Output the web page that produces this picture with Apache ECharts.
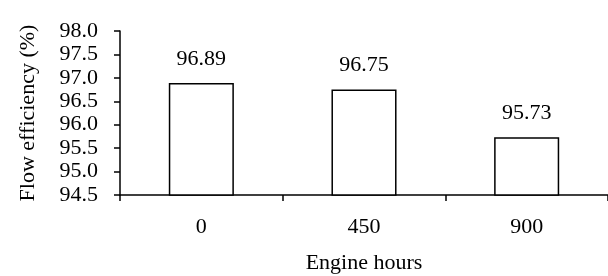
<!DOCTYPE html>
<html lang="en">
<head>
    <meta charset="UTF-8">
    <title>Flow efficiency</title>
    <style>
        html, body { margin: 0; padding: 0; background: #fff; }
        #container { width: 608px; height: 276px; }
    </style>
    <script src="https://cdn.jsdelivr.net/npm/echarts@6/dist/echarts.min.js"></script>
</head>
<body>
<div id="container"></div>
<script type="text/javascript">
    // data
    var engineHours = ['0', '450', '900'];
    var efficiency = [96.89, 96.75, 95.73];

    var yMin = 94.5, yMax = 98.0, yStep = 0.5;

    var font = '"Liberation Serif", "Times New Roman", serif';
    var ink = '#000';
    var size = 22;

    var myChart = echarts.init(document.getElementById('container'));

    var option = {
        backgroundColor: '#fff',
        animation: false,
        textStyle: { fontFamily: font, color: ink },
        grid: { left: 120, right: 0, top: 31, bottom: 81, containLabel: false, outerBoundsMode: 'none' },
        xAxis: {
            type: 'category',
            data: engineHours,
            name: 'Engine hours',
            nameLocation: 'middle',
            nameGap: 57,
            nameTextStyle: { fontFamily: font, fontSize: size, color: ink },
            axisLine: { lineStyle: { color: ink, width: 1.5 } },
            axisTick: { show: true, length: 6, lineStyle: { color: ink, width: 1.5 } },
            axisLabel: { fontFamily: font, fontSize: size, color: ink, margin: 21 }
        },
        yAxis: {
            type: 'value',
            min: yMin,
            max: yMax,
            interval: yStep,
            name: 'Flow efficiency (%)',
            nameLocation: 'middle',
            nameGap: 81,
            nameTextStyle: { fontFamily: font, fontSize: size, color: ink },
            axisLine: { show: true, lineStyle: { color: ink, width: 1.5 } },
            axisTick: { show: true, length: 6, lineStyle: { color: ink, width: 1.5 } },
            splitLine: { show: false },
            axisLabel: {
                fontFamily: font, fontSize: size, color: ink, margin: 22,
                showMinLabel: true, showMaxLabel: true, hideOverlap: false,
                formatter: function (v) { return v.toFixed(1); }
            }
        },
        series: [{
            type: 'bar',
            data: efficiency,
            barWidth: '40%',
            itemStyle: { color: '#fff', borderColor: ink, borderWidth: 1.5 },
            label: {
                show: true,
                position: 'top',
                distance: 13,
                fontFamily: font,
                fontSize: size,
                color: ink,
                formatter: function (p) { return p.value.toFixed(2); }
            }
        }]
    };

    myChart.setOption(option);
</script>
</body>
</html>
